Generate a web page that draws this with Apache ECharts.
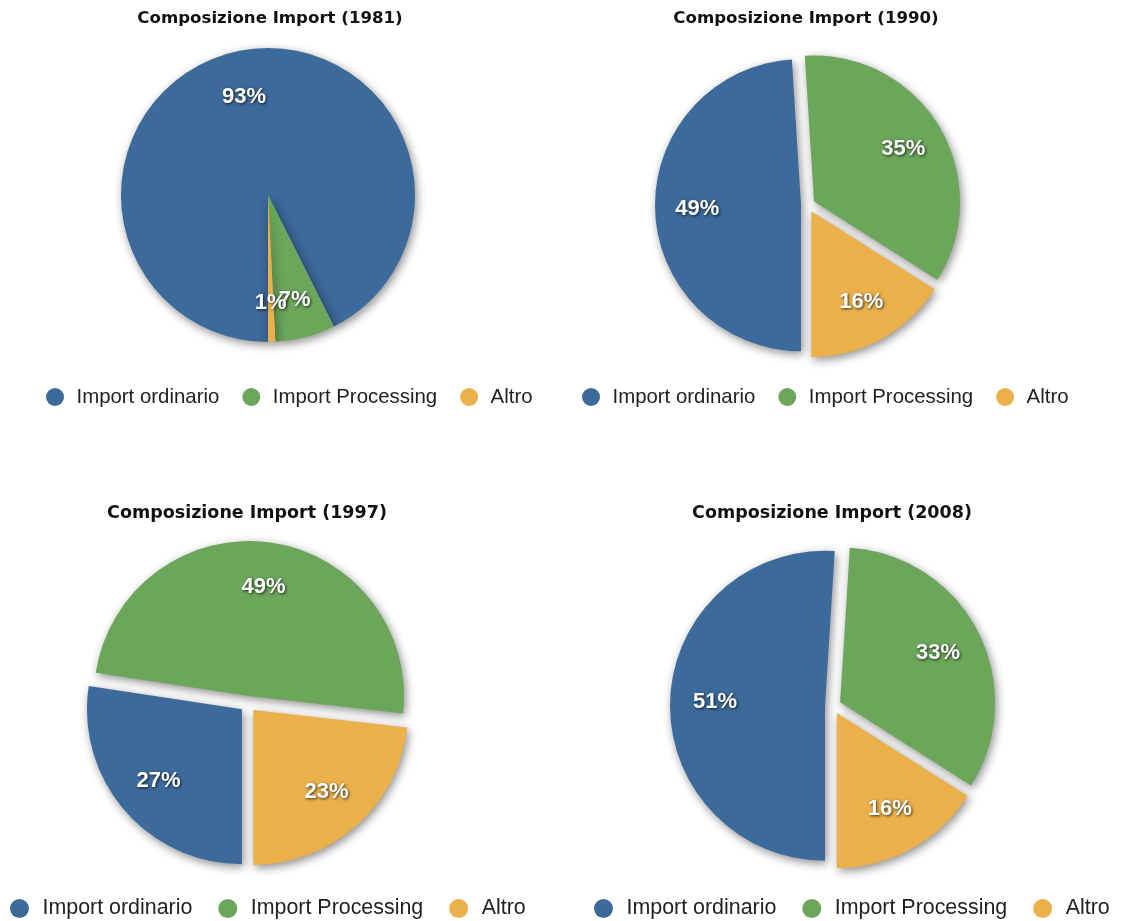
<!DOCTYPE html>
<html>
<head>
<meta charset="utf-8">
<title>Composizione Import</title>
<script src="https://cdn.jsdelivr.net/npm/echarts@6/dist/echarts.min.js"></script>
<style>
    html, body { margin: 0; padding: 0; background: #fff; }
    #main { width: 1123px; height: 921px; }
</style>
</head>
<body>
<div id="main"></div>
<script>
    // dati (percentuali)
    var categories = ['Import ordinario', 'Import Processing', 'Altro'];
    var years = ['1981', '1990', '1997', '2008'];
    var values1981 = [92.6, 6.6, 0.8];
    var values1990 = [49, 35, 16];
    var values1997 = [27.4, 49.4, 23.2];
    var values2008 = [51, 33, 16];
    var colors = ['#3c6a9b', '#6ba65a', '#ecb04b'];

    var allValues = [values1981, values1990, values1997, values2008];

    // posizione di ogni torta nella pagina
    var panels = [
        {cx: 268, cy: 195, r: 147, offset: 0, titleX: 270, titleY: 5, legendX: 41, legendY: 382, legendGap: 23, font: 16.6, legendFont: 20.4, iconW: 33, iconH: 18},
        {cx: 808, cy: 205, r: 146, offset: 7, titleX: 806, titleY: 5, legendX: 577, legendY: 382, legendGap: 23, font: 16.6, legendFont: 20.4, iconW: 33, iconH: 18},
        {cx: 248, cy: 704, r: 155, offset: 8, titleX: 247, titleY: 499, legendX: 5, legendY: 893, legendGap: 26, font: 17.5, legendFont: 21.4, iconW: 36, iconH: 19},
        {cx: 833, cy: 706, r: 155, offset: 8, titleX: 832, titleY: 499, legendX: 589, legendY: 893, legendGap: 26, font: 17.5, legendFont: 21.4, iconW: 36, iconH: 19}
    ];

    function buildData(values, selected) {
        return categories.map(function (name, i) {
            return {name: name, value: values[i], selected: selected};
        });
    }

    var titles = [], legends = [], series = [];

    panels.forEach(function (p, idx) {
        var values = allValues[idx];
        var sel = p.offset > 0;

        titles.push({
            text: 'Composizione Import (' + years[idx] + ')',
            left: p.titleX - 5,
            top: p.titleY,
            textAlign: 'center',
            textStyle: {
                fontFamily: 'DejaVu Sans',
                fontWeight: 'bold',
                fontSize: p.font,
                color: '#111'
            }
        });

        legends.push({
            data: categories,
            left: p.legendX,
            top: p.legendY,
            orient: 'horizontal',
            icon: 'circle',
            itemWidth: p.iconW,
            itemHeight: p.iconH,
            itemGap: p.legendGap,
            textStyle: {
                fontFamily: 'Liberation Sans',
                fontSize: p.legendFont,
                color: '#222'
            }
        });

        // fette
        series.push({
            type: 'pie',
            name: years[idx],
            center: [p.cx, p.cy],
            radius: [0, p.r],
            startAngle: 270,
            clockwise: true,
            selectedMode: 'multiple',
            selectedOffset: p.offset,
            animation: false,
            label: {show: false},
            labelLine: {show: false},
            emphasis: {scale: false},
            itemStyle: {
                shadowBlur: 10,
                shadowColor: 'rgba(0,0,0,0.45)',
                shadowOffsetX: 2,
                shadowOffsetY: 3
            },
            data: buildData(values, sel)
        });

        // etichette (anello trasparente per spostarle verso il bordo)
        series.push({
            type: 'pie',
            name: years[idx] + ' label',
            center: [p.cx, p.cy],
            radius: [p.r * 0.38, p.r],
            startAngle: 270,
            clockwise: true,
            selectedMode: 'multiple',
            selectedOffset: p.offset,
            animation: false,
            silent: true,
            avoidLabelOverlap: false,
            z: 5,
            itemStyle: {color: 'rgba(0,0,0,0)'},
            labelLine: {show: false},
            labelLayout: {hideOverlap: false},
            label: {
                show: true,
                position: 'inside',
                offset: [0, 4],
                formatter: function (d) {
                    return Math.round(d.value) + '%';
                },
                color: '#fff',
                fontFamily: 'Liberation Sans',
                fontWeight: 'bold',
                fontSize: 22,
                textBorderWidth: 0,
                textShadowColor: 'rgba(0,0,0,0.75)',
                textShadowBlur: 3,
                textShadowOffsetX: 1,
                textShadowOffsetY: 1
            },
            data: buildData(values, sel)
        });
    });

    var myChart = echarts.init(document.getElementById('main'));
    myChart.setOption({
        color: colors,
        backgroundColor: '#fff',
        animation: false,
        title: titles,
        legend: legends,
        series: series
    });
</script>
</body>
</html>
